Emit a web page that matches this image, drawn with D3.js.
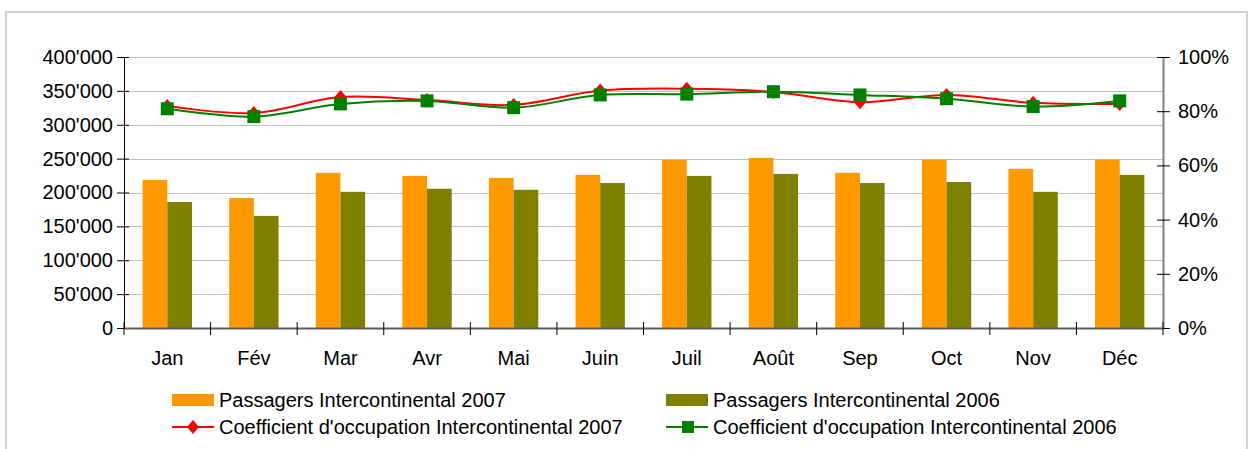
<!DOCTYPE html>
<html>
<head>
<meta charset="utf-8">
<script src="https://cdn.jsdelivr.net/npm/d3@7"></script>
<style>
  body { margin: 0; background: #fff; }
  text { font-family: "Liberation Sans", Arial, sans-serif; }
</style>
</head>
<body>
<div id="chart"></div>
<script>
// data
var months = ["Jan", "Fév", "Mar", "Avr", "Mai", "Juin", "Juil", "Août", "Sep", "Oct", "Nov", "Déc"];
var pax2007 = [218500, 192000, 229000, 224500, 221500, 226000, 248000, 251000, 229000, 248500, 235000, 248500];
var pax2006 = [186000, 165500, 201000, 205500, 204000, 214000, 224500, 227500, 214000, 215500, 201000, 226000];
var occ2007 = [81.9, 79.3, 85.2, 84.1, 82.3, 87.6, 88.3, 87.1, 83.3, 86.0, 83.1, 82.7];
var occ2006 = [80.9, 78.0, 82.7, 83.8, 81.3, 86.0, 86.3, 87.2, 86.0, 84.6, 81.7, 83.8];
var leftTicks = [0, 50000, 100000, 150000, 200000, 250000, 300000, 350000, 400000];
var rightTicks = [0, 20, 40, 60, 80, 100];
var legendLabels = ["Passagers Intercontinental 2007", "Passagers Intercontinental 2006",
                    "Coefficient d'occupation Intercontinental 2007", "Coefficient d'occupation Intercontinental 2006"];

var W = 1254, H = 449;
var margin = {top: 57, left: 124, right: W - 1163, bottom: H - 328},
    width = W - margin.left - margin.right,
    height = H - margin.top - margin.bottom;

var svgRoot = d3.select("#chart").append("svg")
    .attr("width", W)
    .attr("height", H);

svgRoot.append("rect")
    .attr("width", W).attr("height", H).attr("fill", "#fff");

// outer frame
svgRoot.append("rect")
    .attr("x", 6).attr("y", 12)
    .attr("width", 1241).attr("height", 460)
    .attr("fill", "none")
    .attr("stroke", "#d0d0d0")
    .attr("stroke-width", 2);

var svg = svgRoot.append("g")
    .attr("transform", "translate(" + margin.left + "," + margin.top + ")");

var fmt = d3.formatLocale({decimal: ".", thousands: "'", grouping: [3], currency: ["", ""]}).format(",");

var x = d3.scaleBand()
    .domain(months)
    .range([0, width])
    .paddingInner(0.43)
    .paddingOuter(0.215);

var x1 = d3.scaleBand()
    .domain(["2007", "2006"])
    .range([0, x.bandwidth()]);

var y = d3.scaleLinear().domain([0, 400000]).range([height, 0]);
var y2 = d3.scaleLinear().domain([0, 100]).range([height, 0]);

// grid
svg.append("g")
    .selectAll("line")
    .data(leftTicks.slice(1))
    .enter().append("line")
    .attr("x1", 0).attr("x2", width)
    .attr("y1", function(d) { return Math.round(y(d)) + 0.5; })
    .attr("y2", function(d) { return Math.round(y(d)) + 0.5; })
    .attr("stroke", "#c0c0c0")
    .attr("stroke-width", 1);

// bars
var groups = svg.append("g")
    .selectAll("g")
    .data(months)
    .enter().append("g")
    .attr("transform", function(d) { return "translate(" + x(d) + ",0)"; });

groups.append("rect")
    .attr("x", x1("2007"))
    .attr("width", x1.bandwidth())
    .attr("y", function(d, i) { return y(pax2007[i]); })
    .attr("height", function(d, i) { return height - y(pax2007[i]); })
    .attr("fill", "#ff9900");

groups.append("rect")
    .attr("x", x1("2006"))
    .attr("width", x1.bandwidth())
    .attr("y", function(d, i) { return y(pax2006[i]); })
    .attr("height", function(d, i) { return height - y(pax2006[i]); })
    .attr("fill", "#808000");

// axes
var leftAxis = svg.append("g")
    .call(d3.axisLeft(y).tickValues(leftTicks).tickFormat(fmt).tickSize(7).tickPadding(4).tickSizeOuter(0));
leftAxis.select(".domain").attr("stroke", "#000");
leftAxis.selectAll(".tick line").attr("x1", 5).attr("stroke", "#000");
leftAxis.selectAll("text").attr("font-size", 20).attr("fill", "#000");

var rightAxis = svg.append("g")
    .attr("transform", "translate(" + width + ",0)")
    .call(d3.axisRight(y2).tickValues(rightTicks).tickFormat(function(d) { return d + "%"; })
          .tickSize(7).tickPadding(8).tickSizeOuter(0));
rightAxis.select(".domain").attr("stroke", "#808080").attr("stroke-width", 2);
rightAxis.selectAll(".tick line").attr("x1", -6).attr("stroke", "#000");
rightAxis.selectAll("text").attr("font-size", 20).attr("fill", "#000");

var bottomAxis = svg.append("g")
    .attr("transform", "translate(0," + height + ")")
    .call(d3.axisBottom(x).tickSize(0).tickPadding(23).tickSizeOuter(0));
bottomAxis.select(".domain").attr("stroke", "#606060").attr("stroke-width", 2);
bottomAxis.selectAll("text").attr("font-size", 20).attr("fill", "#000");

// ticks between categories
var step = x.step();
svg.append("g")
    .selectAll("line")
    .data(d3.range(months.length + 1))
    .enter().append("line")
    .attr("x1", function(d) { return d * step; })
    .attr("x2", function(d) { return d * step; })
    .attr("y1", height - 6).attr("y2", height + 7)
    .attr("stroke", "#000");

// occupancy lines
var cx = function(d, i) { return x(months[i]) + x.bandwidth() / 2; };
var line = d3.line()
    .x(cx)
    .y(function(d) { return y2(d); })
    .curve(d3.curveCatmullRom.alpha(0.5));

svg.append("path")
    .datum(occ2007)
    .attr("d", line)
    .attr("fill", "none")
    .attr("stroke", "#ff0000")
    .attr("stroke-width", 2);

svg.append("path")
    .datum(occ2006)
    .attr("d", line)
    .attr("fill", "none")
    .attr("stroke", "#008000")
    .attr("stroke-width", 2);

var diamond = "M0,-7L6,0L0,7L-6,0Z";

svg.append("g")
    .selectAll("path")
    .data(occ2007)
    .enter().append("path")
    .attr("d", diamond)
    .attr("transform", function(d, i) { return "translate(" + cx(d, i) + "," + y2(d) + ")"; })
    .attr("fill", "#ff0000");

svg.append("g")
    .selectAll("rect")
    .data(occ2006)
    .enter().append("rect")
    .attr("x", function(d, i) { return cx(d, i) - 6.5; })
    .attr("y", function(d) { return y2(d) - 6.5; })
    .attr("width", 13).attr("height", 13)
    .attr("fill", "#008000");

// legend
var legend = svgRoot.append("g");
var legendPos = [[172, 400], [666, 400], [172, 427], [666, 427]];

legend.append("rect").attr("x", 172).attr("y", 394).attr("width", 42).attr("height", 12).attr("fill", "#ff9900");
legend.append("rect").attr("x", 666).attr("y", 394).attr("width", 42).attr("height", 12).attr("fill", "#808000");

legend.append("line").attr("x1", 172).attr("x2", 214).attr("y1", 427).attr("y2", 427)
    .attr("stroke", "#ff0000").attr("stroke-width", 2);
legend.append("path").attr("d", diamond).attr("transform", "translate(193,427)").attr("fill", "#ff0000");

legend.append("line").attr("x1", 666).attr("x2", 708).attr("y1", 427).attr("y2", 427)
    .attr("stroke", "#008000").attr("stroke-width", 2);
legend.append("rect").attr("x", 682).attr("y", 421).attr("width", 12).attr("height", 12).attr("fill", "#008000");

legend.selectAll("text")
    .data(legendLabels)
    .enter().append("text")
    .attr("x", function(d, i) { return legendPos[i][0] + 47; })
    .attr("y", function(d, i) { return legendPos[i][1] + 7; })
    .attr("font-size", 20)
    .attr("fill", "#000")
    .text(function(d) { return d; });
</script>
</body>
</html>
